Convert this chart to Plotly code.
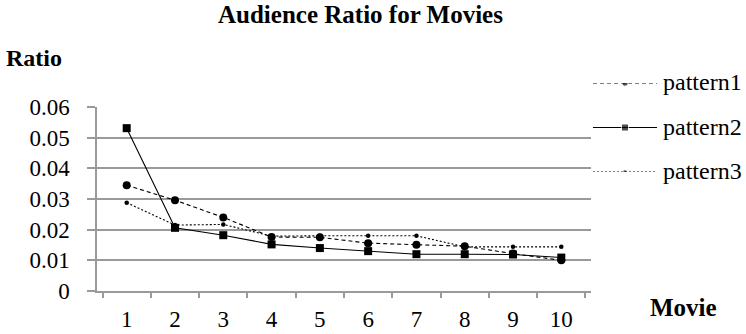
import plotly.graph_objects as go

# Movie index (x categories) and audience ratio per pattern
movies = ["1", "2", "3", "4", "5", "6", "7", "8", "9", "10"]
pattern1 = [0.0345, 0.0296, 0.0240, 0.0176, 0.0175, 0.0156, 0.0151, 0.0146, 0.0122, 0.0100]
pattern2 = [0.0531, 0.0206, 0.0182, 0.0152, 0.0140, 0.0130, 0.0120, 0.0120, 0.0119, 0.0109]
pattern3 = [0.0288, 0.0215, 0.0217, 0.0179, 0.0180, 0.0180, 0.0180, 0.0144, 0.0144, 0.0144]

series_names = ["pattern1", "pattern2", "pattern3"]
y_ticks = [0, 0.01, 0.02, 0.03, 0.04, 0.05, 0.06]
y_tick_text = ["0", "0.01", "0.02", "0.03", "0.04", "0.05", "0.06"]

SERIF = "Liberation Serif"
GRID = "#9a9a9a"

styles = {
    "pattern1": dict(dash="4px,3px", symbol="circle", size=8, legend_size=6.5),
    "pattern2": dict(dash="solid", symbol="square", size=8, legend_size=7),
    "pattern3": dict(dash="2px,2px", symbol="circle", size=4.5, legend_size=4.5),
}
values = {"pattern1": pattern1, "pattern2": pattern2, "pattern3": pattern3}

W, H = 746, 334
M_LEFT = 97
area_w, area_h = W - M_LEFT, H


def px_x(x):
    """Pixel x -> fraction of the drawing area."""
    return (x - M_LEFT) / area_w


def px_y(y):
    """Pixel y (from top) -> fraction of the drawing area (from bottom)."""
    return (H - y) / area_h


plot_right, plot_top, plot_bottom = 591, 107, 291

fig = go.Figure()
for name in series_names:
    st = styles[name]
    fig.add_trace(go.Scatter(
        x=movies, y=values[name], name=name, mode="lines+markers",
        line=dict(color="black", width=1.1, dash=st["dash"]),
        marker=dict(color="black", symbol=st["symbol"], size=st["size"]),
        showlegend=False, xaxis="x", yaxis="y",
    ))

# Hand-built legend: long line samples with a marker in the middle
legend_rows = [0.0, 1.0, 2.0]
for name, row in zip(series_names, legend_rows):
    st = styles[name]
    fig.add_trace(go.Scatter(
        x=[0, 0.5, 1], y=[row, row, row], mode="lines+markers",
        line=dict(color="black", width=1.1, dash=st["dash"]),
        marker=dict(color="black", symbol=st["symbol"],
                    size=[0, st["legend_size"], 0]),
        showlegend=False, hoverinfo="skip", xaxis="x2", yaxis="y2",
    ))
    fig.add_annotation(
        x=1, y=row, xref="x2", yref="y2", text=name, showarrow=False,
        xanchor="left", yanchor="middle", xshift=4, yshift=1,
        font=dict(family=SERIF, size=24, color="black"),
    )

fig.update_layout(
    width=W, height=H,
    margin=dict(l=M_LEFT, r=0, t=0, b=0, pad=0, autoexpand=False),
    paper_bgcolor="white", plot_bgcolor="rgba(0,0,0,0)",
    font=dict(family=SERIF, color="black"),
    xaxis=dict(
        type="category", categoryorder="array", categoryarray=movies,
        tickson="boundaries", ticks="outside", ticklen=5, tickcolor=GRID, tickwidth=1.5,
        showline=True, linecolor=GRID, linewidth=1.5,
        showgrid=False, zeroline=False,
        tickfont=dict(family=SERIF, size=23, color="black"),
        ticklabelstandoff=7, automargin=False,
        domain=[0, px_x(plot_right)], anchor="y", fixedrange=True,
    ),
    yaxis=dict(
        range=[0, 0.06], tickvals=y_ticks, ticktext=y_tick_text,
        ticks="outside", ticklen=8, tickcolor=GRID, tickwidth=1.5,
        showline=True, linecolor=GRID, linewidth=1.5,
        showgrid=True, gridcolor=GRID, gridwidth=1.5,
        zeroline=False,
        tickfont=dict(family=SERIF, size=23, color="black"),
        ticklabelstandoff=13, automargin=False,
        domain=[px_y(plot_bottom), px_y(plot_top)], anchor="x", fixedrange=True,
    ),
    # overlay axes in the right-hand strip for the legend
    xaxis2=dict(
        domain=[px_x(593), px_x(657)], automargin=False,
        range=[0, 1], visible=False, anchor="y2", fixedrange=True,
    ),
    yaxis2=dict(
        domain=[px_y(172), px_y(83)], automargin=False,
        range=[2, 0], visible=False, anchor="x2", fixedrange=True,
    ),
    showlegend=False,
)

# Title and axis titles, placed in pixel terms
fig.add_annotation(
    x=px_x(360.5), y=px_y(15), xref="paper", yref="paper",
    xanchor="center", yanchor="middle",
    text="<b>Audience Ratio for Movies</b>",
    showarrow=False, font=dict(family=SERIF, size=25, color="black"),
)
fig.add_annotation(
    x=px_x(4), y=px_y(58), xref="paper", yref="paper",
    xanchor="left", yanchor="middle",
    text="<b>Ratio</b>",
    showarrow=False, font=dict(family=SERIF, size=24, color="black"),
)
fig.add_annotation(
    x=px_x(683.5), y=px_y(307), xref="paper", yref="paper",
    xanchor="center", yanchor="middle",
    text="<b>Movie</b>",
    showarrow=False, font=dict(family=SERIF, size=25, color="black"),
)

fig.write_html("out.html")
